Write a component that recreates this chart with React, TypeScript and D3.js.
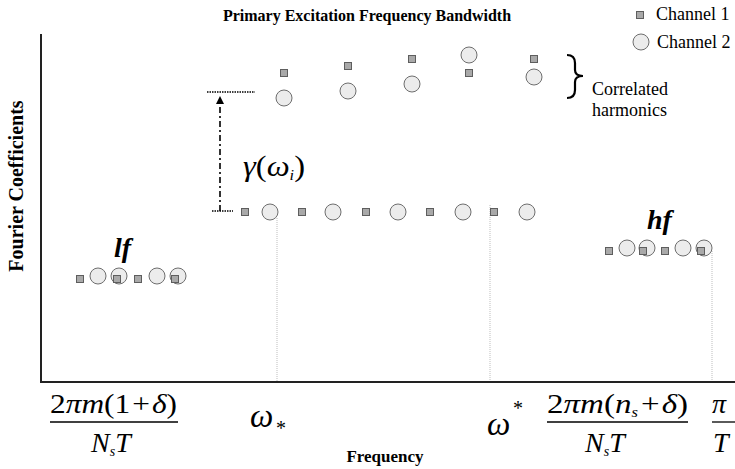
import React from "react";
import * as d3 from "d3";

// frequency offsets (from the vertical axis) and coefficient amplitudes
const lfCh1 = [39, 76, 97, 134];
const lfCh2 = [57, 78, 116, 137];
const lfAmp1 = 103;
const lfAmp2 = 106;

const primaryCh1 = [204, 261, 325, 389, 453];
const primaryCh2 = [229, 292, 357, 422, 486];
const primaryAmp = 170;

const corrFreq = [243, 307, 371, 428, 493];
const corrCh1 = [309, 316, 323, 309, 323];
const corrCh2 = [284, 291, 298, 327, 305];

const hfCh1 = [568, 602, 624, 660];
const hfCh2 = [586, 606, 642, 663];
const hfAmp1 = 131;
const hfAmp2 = 134;

// marker lines: frequency, top amplitude
const guideLines = [
  { f: 236, a: 164 },
  { f: 449, a: 177 },
  { f: 671, a: 131 },
];

const gammaFreq = 179;
const gammaLow = 171;
const gammaHigh = 290;

const W = 735;
const H = 469;
const margin = { top: 34, right: 0, bottom: 87, left: 41 };

const FF = "Liberation Serif";
const BASE = 16; // text is set at 16px and scaled, larger sizes fell back to sans

// positioned text drawn at BASE size and scaled up to `size`
const T: React.FC<{
  x: number; y: number; size: number; rotate?: number;
  bold?: boolean; italic?: boolean; anchor?: string; len?: number;
  children: React.ReactNode;
}> = ({ x, y, size, rotate, bold, italic, anchor, len, children }) => {
  const k = size / BASE;
  return (
    <text
      transform={`translate(${x},${y})${rotate ? ` rotate(${rotate})` : ""} scale(${k})`}
      fontSize={BASE}
      fontFamily={FF}
      fontWeight={bold ? "bold" : "normal"}
      fontStyle={italic ? "italic" : "normal"}
      textAnchor={anchor || "start"}
      textLength={len ? len / k : undefined}
      lengthAdjust={len ? "spacingAndGlyphs" : undefined}
    >
      {children}
    </text>
  );
};

const App: React.FC = () => {
  const x = d3.scaleLinear().domain([0, 694]).range([margin.left, W - margin.right]);
  const y = d3.scaleLinear().domain([0, 348]).range([H - margin.bottom, margin.top]);

  const sq = 7;
  const r = 8;
  const sqFill = "#a9a9a9";
  const sqStroke = "#5e5e5e";
  const ciFill = "#ececec";
  const ciStroke = "#6e6e6e";

  const square = (f: number, a: number, key: string) => (
    <rect key={key} x={x(f) - sq / 2} y={y(a) - sq / 2} width={sq} height={sq}
      fill={sqFill} stroke={sqStroke} strokeWidth={1} />
  );
  const circle = (f: number, a: number, key: string) => (
    <circle key={key} cx={x(f)} cy={y(a)} r={r} fill={ciFill} stroke={ciStroke} strokeWidth={1} />
  );

  const gx = x(gammaFreq);
  const gy0 = y(gammaLow);
  const gy1 = y(gammaHigh);

  // sub/superscript offsets in BASE units
  const sub = 8;
  const subDy = 2.4;

  return (
    <svg width={W} height={H} style={{ position: "absolute", left: 0, top: 0, background: "#fff" }}>
      <defs>
        <marker id="arr" viewBox="0 0 10 10" refX="5" refY="5" markerWidth="5" markerHeight="6" orient="auto">
          <path d="M0,0 L10,5 L0,10 z" fill="#000" />
        </marker>
      </defs>

      {/* guide lines */}
      {guideLines.map((g, i) => (
        <line key={"g" + i} x1={x(g.f)} x2={x(g.f)} y1={y(g.a)} y2={y(0)}
          stroke="#bdbdbd" strokeWidth={1} strokeDasharray="1,1" />
      ))}

      {/* axes */}
      <path d={`M${x(0)},${y(348)} L${x(0)},${y(0)} L${x(694)},${y(0)}`} fill="none"
        stroke="#222" strokeWidth={2} />

      {/* gamma annotation */}
      <line x1={gx - 13} x2={gx + 35} y1={gy1} y2={gy1} stroke="#000" strokeWidth={1.5} strokeDasharray="1.5,1" />
      <line x1={gx - 8} x2={gx + 13} y1={gy0} y2={gy0} stroke="#000" strokeWidth={1.5} strokeDasharray="1.5,1" />
      <line x1={gx} x2={gx} y1={gy0} y2={gy1 + 8} stroke="#000" strokeWidth={1.6}
        strokeDasharray="6,3,2,3" markerEnd="url(#arr)" />
      <T x={243} y={176} size={29} italic len={62}>
        γ<tspan fontStyle="normal">(</tspan>ω<tspan fontSize={sub} dy={subDy}>i</tspan>
        <tspan fontStyle="normal" dy={-subDy}>)</tspan>
      </T>

      {/* lf band */}
      {lfCh2.map((f, i) => circle(f, lfAmp2, "lc" + i))}
      {lfCh1.map((f, i) => square(f, lfAmp1, "ls" + i))}
      <T x={114} y={257} size={28} bold italic>lf</T>

      {/* primary band */}
      {primaryCh2.map((f, i) => circle(f, primaryAmp, "pc" + i))}
      {primaryCh1.map((f, i) => square(f, primaryAmp, "ps" + i))}

      {/* correlated harmonics */}
      {corrFreq.map((f, i) => circle(f, corrCh2[i], "cc" + i))}
      {corrFreq.map((f, i) => square(f, corrCh1[i], "cs" + i))}
      <path d="M567,55 Q575,55 575,63 L575,70 Q575,76 583,76 Q575,76 575,82 L575,90 Q575,98 567,98"
        fill="none" stroke="#000" strokeWidth={2.2} />
      <T x={592} y={95} size={18}>Correlated</T>
      <T x={592} y={116} size={18}>harmonics</T>

      {/* hf band */}
      {hfCh2.map((f, i) => circle(f, hfAmp2, "hc" + i))}
      {hfCh1.map((f, i) => square(f, hfAmp1, "hs" + i))}
      <T x={647} y={229} size={28} bold italic>hf</T>

      {/* title and legend */}
      <T x={367} y={21} size={16} bold anchor="middle">Primary Excitation Frequency Bandwidth</T>
      <rect x={640 - sq / 2} y={15 - sq / 2} width={sq} height={sq} fill={sqFill} stroke={sqStroke} />
      <T x={656} y={20} size={18}>Channel 1</T>
      <circle cx={641} cy={42} r={r} fill={ciFill} stroke={ciStroke} />
      <T x={657} y={48} size={18}>Channel 2</T>

      {/* axis titles */}
      <T x={23} y={186} size={20} rotate={-90} bold anchor="middle">Fourier Coefficients</T>
      <T x={385} y={462} size={17} bold anchor="middle">Frequency</T>

      {/* frequency tick labels */}
      <T x={50} y={413} size={28} len={127}>
        2<tspan fontStyle="italic">πm</tspan>(1<tspan dx={1}>+</tspan><tspan dx={1} fontStyle="italic">δ</tspan>)
      </T>
      <line x1={50} x2={178} y1={422} y2={422} stroke="#000" strokeWidth={1.3} />
      <T x={91} y={452} size={28} italic>
        N<tspan fontSize={sub} dy={subDy}>s</tspan><tspan dy={-subDy}>T</tspan>
      </T>

      <T x={250} y={427} size={33} italic>ω</T>
      <T x={276} y={435} size={20}>*</T>

      <T x={487} y={435} size={33} italic>ω</T>
      <T x={513} y={415} size={20}>*</T>

      <T x={547} y={413} size={28} len={141}>
        2<tspan fontStyle="italic">πm</tspan>(<tspan fontStyle="italic">n</tspan>
        <tspan fontSize={sub} dy={subDy} fontStyle="italic">s</tspan><tspan dy={-subDy} dx={1.5}>+</tspan>
        <tspan dx={1} fontStyle="italic">δ</tspan>)
      </T>
      <line x1={547} x2={688} y1={422} y2={422} stroke="#000" strokeWidth={1.3} />
      <T x={585} y={452} size={28} italic>
        N<tspan fontSize={sub} dy={subDy}>s</tspan><tspan dy={-subDy}>T</tspan>
      </T>

      <T x={712} y={413} size={28} italic>π</T>
      <line x1={712} x2={735} y1={422} y2={422} stroke="#000" strokeWidth={1.3} />
      <T x={713} y={452} size={28} italic>T</T>
    </svg>
  );
};

export default App;
